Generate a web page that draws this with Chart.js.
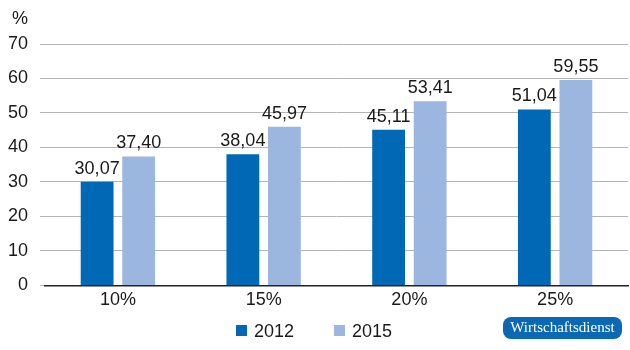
<!DOCTYPE html>
<html>
<head>
<meta charset="utf-8">
<script src="https://cdn.jsdelivr.net/npm/chart.js@4"></script>
<style>
  html, body { margin: 0; padding: 0; background: #fff; }
  #wrap { width: 630px; height: 350px; }
</style>
</head>
<body>
<div id="wrap"><canvas id="myChart" width="630" height="350"></canvas></div>
<script>
Chart.defaults.font.family = "'Liberation Sans', Arial, sans-serif";
Chart.defaults.font.size = 18;
Chart.defaults.color = "#1a1a1a";

const categories = ['10%', '15%', '20%', '25%'];
const values2012 = [30.07, 38.04, 45.11, 51.04];
const values2015 = [37.40, 45.97, 53.41, 59.55];
const yTicks = [0, 10, 20, 30, 40, 50, 60, 70];

const data = {
  labels: categories,
  datasets: [{
    label: '2012',
    data: values2012,
    backgroundColor: '#0068b4',
  },
  {
    label: '2015',
    data: values2015,
    backgroundColor: '#9bb7e0',
  }],
};

// value above each bar, german decimal comma
const barValues = {
  id: 'barValues',
  afterDatasetsDraw(chart) {
    const ctx = chart.ctx;
    ctx.save();
    ctx.font = "18px 'Liberation Sans', Arial, sans-serif";
    ctx.fillStyle = '#1a1a1a';
    ctx.textAlign = 'center';
    ctx.textBaseline = 'alphabetic';
    chart.data.datasets.forEach((ds, i) => {
      chart.getDatasetMeta(i).data.forEach((bar, j) => {
        ctx.fillText(ds.data[j].toFixed(2).replace('.', ','), bar.x, bar.y - 8);
      });
    });
    ctx.restore();
  }
};

// unit on top of the y axis, legend and publisher badge
const extras = {
  id: 'extras',
  afterDraw(chart) {
    const ctx = chart.ctx;
    ctx.save();
    ctx.font = "18px 'Liberation Sans', Arial, sans-serif";
    ctx.fillStyle = '#1a1a1a';
    ctx.textBaseline = 'middle';
    ctx.textAlign = 'left';
    ctx.fillText('%', 12, 19);

    // legend
    let x = 236;
    const y = 331;
    chart.data.datasets.forEach(ds => {
      ctx.fillStyle = ds.backgroundColor;
      ctx.fillRect(x, y - 6, 11, 11);
      ctx.fillStyle = '#1a1a1a';
      ctx.fillText(ds.label, x + 18, y + 1);
      x += 18 + ctx.measureText(ds.label).width + 40;
    });

    // badge
    ctx.fillStyle = '#0b68b3';
    ctx.beginPath();
    ctx.roundRect(503, 317, 119, 22, 8);
    ctx.fill();
    ctx.fillStyle = '#fff';
    ctx.font = "15px 'Liberation Serif', 'Times New Roman', serif";
    ctx.textAlign = 'center';
    ctx.fillText('Wirtschaftsdienst', 562.5, 328.5);
    ctx.restore();
  }
};

const config = {
  type: 'bar',
  data: data,
  plugins: [barValues, extras],
  options: {
    responsive: false,
    animation: false,
    layout: {
      padding: { top: 44, left: -4, right: 2, bottom: 35 },
    },
    datasets: {
      bar: {
        categoryPercentage: 0.57,
        barPercentage: 0.79,
      }
    },
    plugins: {
      legend: { display: false },
      tooltip: { enabled: false },
    },
    scales: {
      y: {
        min: 0,
        max: 70,
        afterBuildTicks(scale) {
          scale.ticks = yTicks.map(v => ({ value: v }));
        },
        grid: {
          color: '#b5b5b5',
          lineWidth: 1,
          drawTicks: true,
          tickLength: 5,
        },
        border: { display: false },
        ticks: { padding: 12 },
      },
      x: {
        grid: { display: false, drawTicks: false },
        border: { color: '#222', width: 1.5 },
        ticks: { padding: 4 },
      },
    }
  },
};

const myChart = new Chart(document.getElementById('myChart'), config);
</script>
</body>
</html>
